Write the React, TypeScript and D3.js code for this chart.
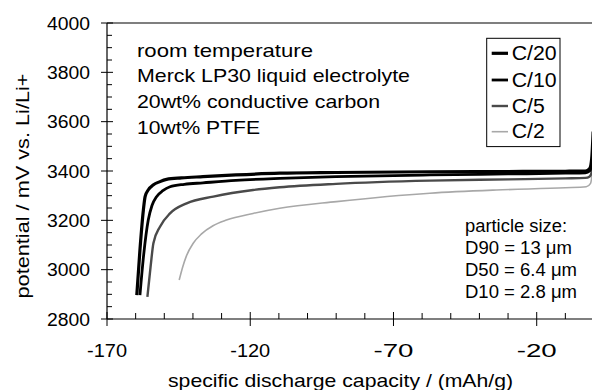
import React from "react";
import * as d3 from "d3";

// discharge curves
const c20Cap = [-159.6, -158.5, -157.3, -156.7, -155.5, -153.9, -151.5, -149.2, -144, -136.5, -125, -109.7, -90, -57.3, -30, -10, -3, -1.5, -0.8, -0.3];
const c20Pot = [2897, 3080, 3242, 3296, 3325, 3343, 3357, 3366, 3372, 3377, 3384, 3391, 3394, 3397, 3398, 3399, 3400, 3410, 3450, 3560];
const c10Cap = [-158.5, -157.2, -155.6, -154.3, -152.7, -150.5, -148, -143, -136.5, -125, -109.7, -90, -57.3, -30, -10, -3, -1.5, -0.8, -0.3];
const c10Pot = [2897, 3060, 3201, 3260, 3296, 3320, 3336, 3346, 3352, 3362, 3370, 3377, 3384, 3388, 3391, 3393, 3400, 3430, 3500];
const c5Cap = [-155.9, -154.8, -153.8, -151.5, -148, -142.2, -132.9, -119, -109.7, -90, -57.3, -30, -10, -3, -1.5, -0.8, -0.3];
const c5Pot = [2890, 3010, 3107, 3174, 3228, 3269, 3296, 3323, 3334, 3348, 3361, 3366, 3370, 3372, 3378, 3395, 3430];
const c2Cap = [-144.8, -143.6, -142.3, -139.9, -137, -133, -128.3, -119, -109.7, -89.9, -57.3, -34.1, -10, -2.7, -1.2, -0.5];
const c2Pot = [2958, 3010, 3055, 3107, 3145, 3178, 3201, 3228, 3249, 3276, 3310, 3323, 3332, 3336, 3350, 3400];

const seriesNames = ["C/20", "C/10", "C/5", "C/2"];
const yTicks = [2800, 3000, 3200, 3400, 3600, 3800, 4000];
const xTicks = [-170, -120, -70, -20];
const notes = ["room temperature", "Merck LP30 liquid electrolyte", "20wt% conductive carbon", "10wt% PTFE"];
const particle = ["particle size:", "D90 = 13 μm", "D50 = 6.4 μm", "D10 = 2.8 μm"];

const font = "'Liberation Sans', Arial, Helvetica, sans-serif";

export default function App() {
  const width = 592;
  const height = 390;
  const x = d3.scaleLinear().domain([-170, 0]).range([107, 594]);
  const y = d3.scaleLinear().domain([2800, 4000]).range([319, 23]);

  const series = [
    { name: seriesNames[0], cap: c20Cap, pot: c20Pot, color: "#000", w: 3.2 },
    { name: seriesNames[1], cap: c10Cap, pot: c10Pot, color: "#000", w: 2.8 },
    { name: seriesNames[2], cap: c5Cap, pot: c5Pot, color: "#4a4a4a", w: 2.4 },
    { name: seriesNames[3], cap: c2Cap, pot: c2Pot, color: "#a8a8a8", w: 1.6 },
  ];

  const line = d3
    .line<[number, number]>()
    .x((d) => x(d[0]))
    .y((d) => y(d[1]))
    .curve(d3.curveMonotoneX);

  const yMinor = d3.range(2800, 4001, 50).filter((v) => v % 200 !== 0);
  const xMinor = d3.range(-170, 1, 10).filter((v) => !xTicks.includes(v));

  const noteLen = [176, 273, 243, 123];
  const partLen = [102, 107, 112, 112];
  const legLen = [45, 45, 33, 33];

  return (
    <svg
      width={width}
      height={height}
      style={{ position: "absolute", left: 0, top: 0, background: "#fff" }}
      fontFamily={font}
    >
      <rect width={width} height={height} fill="#fff" />

      {/* frame */}
      <line x1={x(-170)} x2={width} y1={y(4000)} y2={y(4000)} stroke="#000" strokeWidth={1.2} />
      <line x1={x(-170)} x2={x(-170)} y1={y(4000)} y2={y(2800)} stroke="#000" strokeWidth={1.2} />
      <line x1={x(-170)} x2={width} y1={y(2800)} y2={y(2800)} stroke="#000" strokeWidth={1.2} />

      {/* y ticks */}
      {yMinor.map((v) => (
        <line key={"ym" + v} x1={x(-170)} x2={x(-170) + 5} y1={y(v)} y2={y(v)} stroke="#000" strokeWidth={1} />
      ))}
      {yTicks.map((v) => (
        <g key={"y" + v}>
          <line x1={x(-170) - 6} x2={x(-170) + 6} y1={y(v)} y2={y(v)} stroke="#000" strokeWidth={1} />
          <text x={90} y={y(v) + 6.5} fontSize={17.5} textAnchor="end" textLength={43} lengthAdjust="spacingAndGlyphs">
            {v}
          </text>
        </g>
      ))}

      {/* x ticks */}
      {xMinor.map((v) => (
        <line key={"xm" + v} x1={x(v)} x2={x(v)} y1={y(2800)} y2={y(2800) - 6} stroke="#000" strokeWidth={1} />
      ))}
      {xTicks.map((v) => (
        <g key={"x" + v}>
          <line x1={x(v)} x2={x(v)} y1={y(2800) - 7} y2={y(2800) + 7} stroke="#000" strokeWidth={1} />
          <text x={x(v)} y={357} fontSize={17.5} textAnchor="middle" textLength={40} lengthAdjust="spacingAndGlyphs">
            {v}
          </text>
        </g>
      ))}

      {/* axis titles */}
      <text x={340.5} y={387} fontSize={18.5} textAnchor="middle" textLength={345} lengthAdjust="spacingAndGlyphs">
        specific discharge capacity / (mAh/g)
      </text>
      <text
        transform="translate(29,186) rotate(-90)"
        fontSize={18.5}
        textAnchor="middle"
        textLength={225}
        lengthAdjust="spacingAndGlyphs"
      >
        potential / mV vs. Li/Li+
      </text>

      {/* curves */}
      {series
        .slice()
        .reverse()
        .map((s) => (
          <path
            key={s.name}
            d={line(s.cap.map((c, i) => [c, s.pot[i]] as [number, number])) || ""}
            fill="none"
            stroke={s.color}
            strokeWidth={s.w}
            strokeLinejoin="round"
          />
        ))}

      {/* notes */}
      {notes.map((t, i) => (
        <text key={t} x={137} y={[57, 82, 108, 134][i]} fontSize={19} textLength={noteLen[i]} lengthAdjust="spacingAndGlyphs">
          {t}
        </text>
      ))}
      {particle.map((t, i) => (
        <text key={t} x={465} y={[231.7, 254, 276, 298.3][i]} fontSize={17.5} textLength={partLen[i]} lengthAdjust="spacingAndGlyphs">
          {t}
        </text>
      ))}

      {/* legend */}
      <rect x={486.7} y={38.3} width={73.3} height={108.3} fill="#fff" stroke="#000" strokeWidth={1} />
      {series.map((s, i) => {
        const ly = [53.3, 80, 106, 131.7][i];
        return (
          <g key={"leg" + s.name}>
            <line x1={491.7} x2={508} y1={ly} y2={ly} stroke={s.color} strokeWidth={s.w} />
            <text x={511.7} y={ly + 6.5} fontSize={19.5} textLength={legLen[i]} lengthAdjust="spacingAndGlyphs">
              {s.name}
            </text>
          </g>
        );
      })}
    </svg>
  );
}
